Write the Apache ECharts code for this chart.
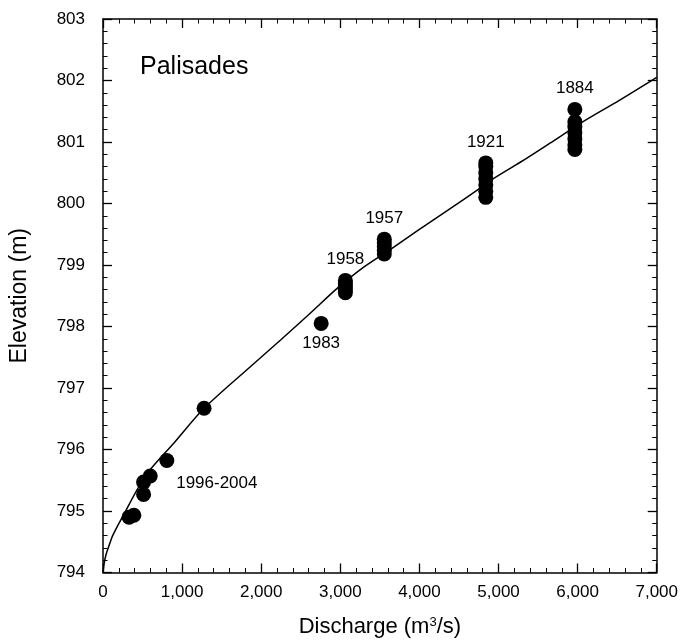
<!DOCTYPE html>
<html><head><meta charset="utf-8">
<script src="https://cdn.jsdelivr.net/npm/echarts@6/dist/echarts.min.js"></script>
<style>html,body{margin:0;padding:0;background:#fff}#c{width:681px;height:643px}</style>
</head><body><div id="c"></div>
<script>
// Rating curve (discharge m3/s, elevation m)
const curveQ = [0, 15, 40, 80, 122, 248, 542, 900, 1278, 1866, 2245, 2623, 2960, 3300, 3653, 4000, 4347, 4767, 4956, 5313, 5650, 6069, 6532, 7000];
const curveZ = [794.0, 794.15, 794.3, 794.45, 794.6, 794.91, 795.58, 796.11, 796.67, 797.35, 797.78, 798.22, 798.62, 798.97, 799.27, 799.58, 799.88, 800.25, 800.42, 800.70, 800.98, 801.33, 801.68, 802.05];

// Observed points, grouped by flood label
const groupNames = ['1996-2004', '1983', '1958', '1957', '1921', '1884'];
const groupQ = [
  [330, 390, 513, 513, 597, 807, 1278],
  [2758],
  [3064, 3064, 3064, 3064, 3064],
  [3556, 3556, 3556, 3556, 3556],
  [4839, 4839, 4839, 4839, 4839, 4839, 4839],
  [5965, 5965, 5965, 5965, 5965, 5965, 5965]
];
const groupZ = [
  [794.90, 794.93, 795.27, 795.47, 795.57, 795.82, 796.67],
  [798.05],
  [798.55, 798.60, 798.65, 798.70, 798.75],
  [799.18, 799.24, 799.30, 799.36, 799.42],
  [800.10, 800.20, 800.30, 800.40, 800.50, 800.60, 800.66],
  [800.88, 800.95, 801.05, 801.15, 801.25, 801.33, 801.53]
];
const xTicks = [0, 1000, 2000, 3000, 4000, 5000, 6000, 7000];
const yTicks = [794, 795, 796, 797, 798, 799, 800, 801, 802, 803];

const FONT = 'Liberation Sans';
const labelStyle = {show: true, color: '#000', fontFamily: FONT, fontSize: 17};

const points = [];
groupNames.forEach((name, g) => {
  const q = groupQ[g], z = groupZ[g];
  let topIdx = 0;
  z.forEach((v, i) => { if (v > z[topIdx]) topIdx = i; });
  q.forEach((x, i) => {
    const item = {value: [x, z[i]]};
    if (name === '1996-2004' && i === 5) {
      item.label = Object.assign({}, labelStyle, {position: 'inside', offset: [50, 23], formatter: name});
    } else if (name === '1983') {
      item.label = Object.assign({}, labelStyle, {position: 'bottom', distance: 4, formatter: name});
    } else if (name !== '1996-2004' && i === topIdx) {
      item.label = Object.assign({}, labelStyle, {position: 'top', distance: 5, formatter: name});
    }
    points.push(item);
  });
});

const fmt = v => v.toLocaleString('en-US');
const xMin = xTicks[0], xMax = xTicks[xTicks.length - 1];
const yMin = yTicks[0], yMax = yTicks[yTicks.length - 1];

function mkAxis(kind, pos, major, withLabel) {
  const isX = kind === 'x';
  const ax = {
    type: 'value', position: pos,
    min: isX ? xMin : yMin, max: isX ? xMax : yMax,
    interval: isX ? (major ? 1000 : 200) : (major ? 1 : 0.2),
    axisLine: {show: major, onZero: false, lineStyle: {color: '#000', width: 1.5}},
    axisTick: {inside: true, length: major ? 9 : 4.5, lineStyle: {color: '#000', width: major ? 1.3 : 1}},
    splitLine: {show: false},
    axisLabel: {show: false}
  };
  if (withLabel) {
    ax.axisLabel = {show: true, fontFamily: FONT, fontSize: 17, color: '#000'};
    if (isX) {
      ax.axisLabel.margin = 11; ax.axisLabel.formatter = fmt;
      ax.name = 'Discharge (m{sup|3}/s)'; ax.nameLocation = 'middle'; ax.nameGap = 43;
      ax.nameTextStyle = {fontFamily: FONT, fontSize: 22, color: '#000',
        rich: {sup: {fontSize: 13, verticalAlign: 'top', padding: [0, 0, 10, 0], fontFamily: FONT, color: '#000'}}};
    } else {
      ax.axisLabel.margin = 18;
      ax.name = 'Elevation (m)'; ax.nameLocation = 'middle'; ax.nameGap = 72;
      ax.nameTextStyle = {fontFamily: FONT, fontSize: 23, color: '#000'};
    }
  }
  return ax;
}

const chart = echarts.init(document.getElementById('c'));
chart.setOption({
  animation: false,
  backgroundColor: '#fff',
  title: {text: 'Palisades', left: 135, top: 50, textStyle: {fontFamily: FONT, fontSize: 25, fontWeight: 'normal', color: '#000'}},
  grid: {left: 102, right: 24, top: 19, bottom: 70},
  xAxis: [
    mkAxis('x', 'bottom', true, true),
    mkAxis('x', 'top', true, false),
    mkAxis('x', 'bottom', false, false),
    mkAxis('x', 'top', false, false)
  ],
  yAxis: [
    mkAxis('y', 'left', true, true),
    mkAxis('y', 'right', true, false),
    mkAxis('y', 'left', false, false),
    mkAxis('y', 'right', false, false)
  ],
  series: [
    {type: 'line', data: curveQ.map((q, i) => [q, curveZ[i]]), showSymbol: false, smooth: 0.3,
     lineStyle: {color: '#000', width: 1.5}, z: 2},
    {type: 'scatter', data: points, symbolSize: 15, itemStyle: {color: '#000', opacity: 1}, z: 3}
  ]
});
</script></body></html>
